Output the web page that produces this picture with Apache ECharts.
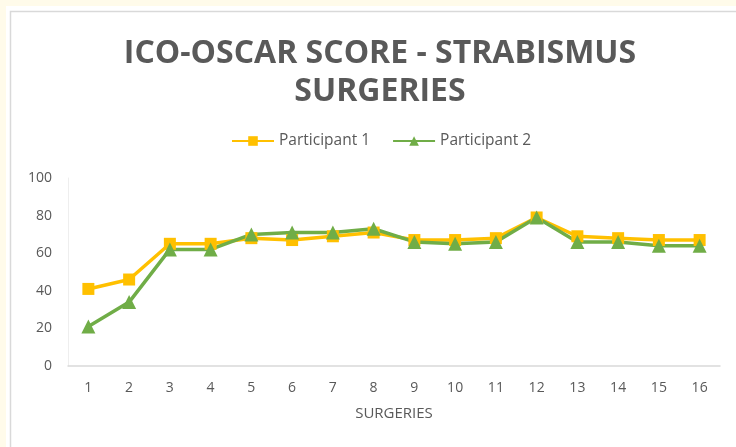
<!DOCTYPE html>
<html>
<head>
<meta charset="utf-8">
<script src="https://cdn.jsdelivr.net/npm/echarts@6/dist/echarts.min.js"></script>
<style>
html,body{margin:0;padding:0;background:#fffbea;}
#c{width:736px;height:447px;}
</style>
</head>
<body>
<div id="c"></div>
<script>
var categories = ['1','2','3','4','5','6','7','8','9','10','11','12','13','14','15','16'];
var participant1 = [41,46,65,65,68,67,69,71,67,67,68,79,69,68,67,67];
var participant2 = [21,34,62,62,70,71,71,73,66,65,66,79,66,66,64,64];
var yTicks = [0,20,40,60,80,100];

var chart = echarts.init(document.getElementById('c'), null, {renderer:'canvas'});
var grey = '#595959';
chart.setOption({
  backgroundColor:'#fffbea',
  animation:false,
  graphic:[
    {type:'rect', shape:{x:6,y:6,width:740,height:450}, style:{fill:'#ffffff'}, z:-10},
    {type:'rect', shape:{x:10.5,y:11.5,width:740,height:450}, style:{fill:'none', stroke:'#d9d9d9', lineWidth:1.5}, z:-9}
  ],
  title:{
    text:'ICO-OSCAR SCORE - STRABISMUS\nSURGERIES',
    left:375, textAlign:'center', top:30,
    textStyle:{fontFamily:'Open Sans', fontWeight:'bold', fontSize:32, color:grey, lineHeight:38}
  },
  legend:{
    top:128, left:226, itemGap:22, itemWidth:42, itemHeight:12,
    textStyle:{fontFamily:'Open Sans', fontSize:15.5, color:grey},
    data:['Participant 1','Participant 2']
  },
  grid:{left:68, right:16, top:178, bottom:81},
  xAxis:{
    type:'category', data:categories, boundaryGap:true,
    name:'SURGERIES', nameLocation:'middle', nameGap:40,
    nameTextStyle:{fontFamily:'Open Sans', fontSize:15, color:grey},
    axisLine:{lineStyle:{color:'#d9d9d9', width:1.5}},
    axisTick:{show:false},
    axisLabel:{fontFamily:'Open Sans', fontSize:14, color:grey, margin:15}
  },
  yAxis:{
    type:'value', min:yTicks[0], max:yTicks[yTicks.length-1], interval:20,
    axisLine:{show:true, lineStyle:{color:'#eeeeee', width:1}},
    axisTick:{show:false},
    splitLine:{show:false},
    axisLabel:{fontFamily:'Open Sans', fontSize:14, color:grey, margin:16}
  },
  series:[
    {name:'Participant 1', type:'line', data:participant1, symbol:'rect', symbolSize:12,
     lineStyle:{color:'#ffc000', width:3.5}, itemStyle:{color:'#ffc000'}},
    {name:'Participant 2', type:'line', data:participant2, symbol:'triangle', symbolSize:14,
     lineStyle:{color:'#70ad47', width:3.5}, itemStyle:{color:'#70ad47'}}
  ]
});
</script>
</body>
</html>
